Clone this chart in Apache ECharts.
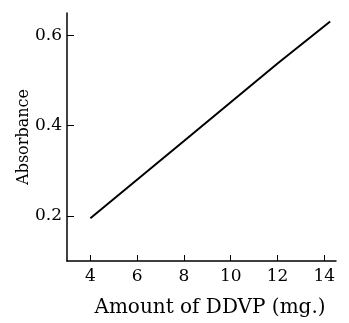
<!DOCTYPE html>
<html>
<head>
<meta charset="utf-8">
<script src="https://cdn.jsdelivr.net/npm/echarts@6/dist/echarts.min.js"></script>
<style>
  html, body {margin: 0; padding: 0; background: #fff;}
  #chart {width: 349px; height: 323px;}
</style>
</head>
<body>
<div id="chart"></div>
<script>
// amount of DDVP (mg.) and absorbance
const amounts = [4, 8, 12, 14.25];
const absorbance = [0.195, 0.366, 0.538, 0.631];
const xTicks = [4, 6, 8, 10, 12, 14];
const yTicks = [0.2, 0.4, 0.6];

const font = 'DejaVu Serif';
const myChart = echarts.init(document.getElementById('chart'));
myChart.setOption({
    animation: false,
    backgroundColor: '#fff',
    grid: {left: 67, right: 13, top: 13, bottom: 59},
    xAxis: {
        type: 'value',
        min: 3,
        max: 14.5,
        name: 'Amount of DDVP (mg.)',
        nameLocation: 'middle',
        nameGap: 37,
        nameMoveOverlap: false,
        nameTextStyle: {fontFamily: font, fontSize: 20, color: '#000', padding: [0, 0, 0, 17]},
        splitLine: {show: false},
        axisLine: {lineStyle: {color: '#000', width: 1.5}},
        axisTick: {inside: true, length: 6, customValues: xTicks, lineStyle: {color: '#000'}},
        axisLabel: {customValues: xTicks, fontFamily: font, fontSize: 17, color: '#000', margin: 7}
    },
    yAxis: {
        type: 'value',
        min: 0.1,
        max: 0.65,
        name: 'Absorbance',
        nameLocation: 'middle',
        nameGap: 35,
        nameMoveOverlap: false,
        nameTextStyle: {fontFamily: font, fontSize: 16, color: '#000'},
        splitLine: {show: false},
        axisLine: {show: true, lineStyle: {color: '#000', width: 1.5}},
        axisTick: {inside: true, length: 7, customValues: yTicks, lineStyle: {color: '#000'}},
        axisLabel: {customValues: yTicks, fontFamily: font, fontSize: 17, color: '#000', margin: 5,
            formatter: v => v.toFixed(1)}
    },
    series: [{
        type: 'line',
        data: amounts.map((a, i) => [a, absorbance[i]]),
        showSymbol: false,
        lineStyle: {color: '#000', width: 2}
    }]
});
</script>
</body>
</html>
